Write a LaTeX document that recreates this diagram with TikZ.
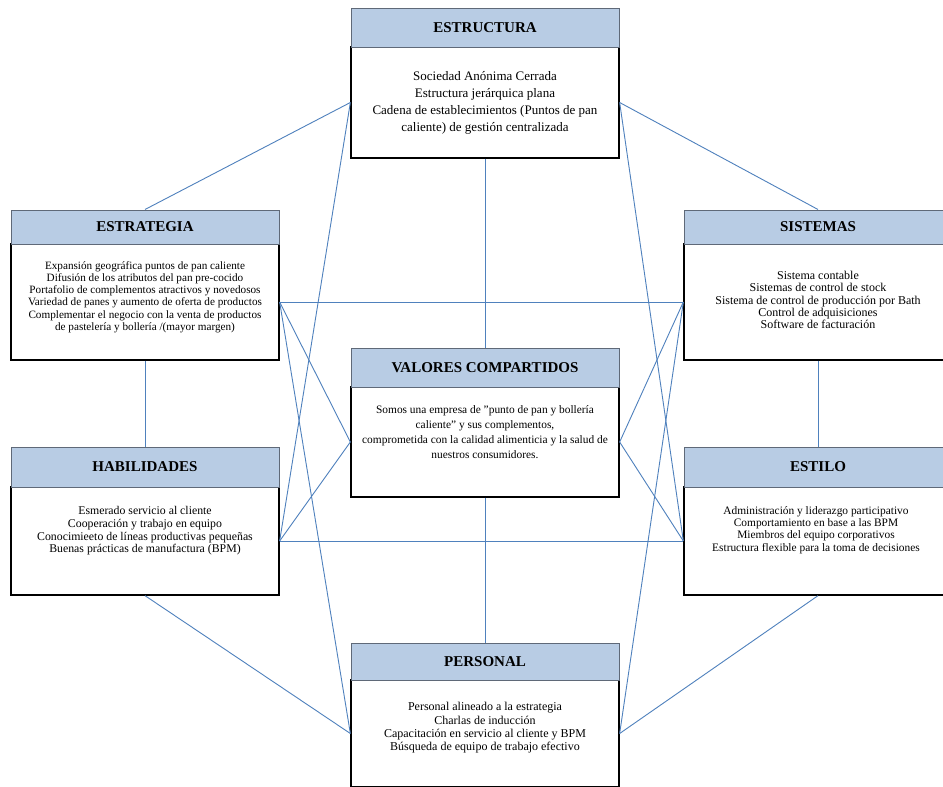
\documentclass[tikz,border=0pt]{standalone}
\usepackage{fontspec}
\setmainfont{Liberation Serif}
\definecolor{linecol}{RGB}{79,129,189}
\definecolor{hdrfill}{RGB}{184,204,228}
\definecolor{hdrdraw}{RGB}{95,105,120}
\begin{document}
\begin{tikzpicture}[x=1pt,y=-1pt,
  conn/.style={draw=linecol,line width=0.9pt},
  hdr/.style={draw=hdrdraw,fill=hdrfill,line width=1pt,minimum width=268pt,inner sep=0pt,font=\fontsize{15}{18}\selectfont\bfseries},
  bdy/.style={draw=black,fill=white,line width=1.3pt,minimum width=268pt,inner sep=0pt},
  txtA/.style={align=center,inner sep=0pt,font=\fontsize{13}{17}\selectfont},
  txtEst/.style={align=center,inner sep=0pt,font=\fontsize{11.2}{12.2}\selectfont},
  txtSis/.style={align=center,inner sep=0pt,font=\fontsize{12}{12.4}\selectfont},
  txtVal/.style={align=center,inner sep=0pt,font=\fontsize{11.4}{15}\selectfont},
  txtHab/.style={align=center,inner sep=0pt,font=\fontsize{11.8}{12.7}\selectfont},
  txtSty/.style={align=center,inner sep=0pt,font=\fontsize{11.4}{12.3}\selectfont},
  txtPer/.style={align=center,inner sep=0pt,font=\fontsize{12}{13.3}\selectfont}]
\clip (0,0) rectangle (943,787);
\fill[white] (0,0) rectangle (943,787);
% bodies
\node[bdy,minimum height=111pt] (estructuraB) at (485,102.5) {};
\node[bdy,minimum height=116pt] (estrategiaB) at (145,302) {};
\node[bdy,minimum height=116pt] (sistemasB) at (818,302) {};
\node[bdy,minimum height=110pt] (valoresB) at (485,442) {};
\node[bdy,minimum height=108pt] (habilidadesB) at (145,541) {};
\node[bdy,minimum height=108pt] (estiloB) at (818,541) {};
\node[bdy,minimum height=107pt] (personalB) at (485,733.5) {};
% headers
\node[hdr,minimum height=39pt] (estructuraH) at (485,27.5) {ESTRUCTURA};
\node[hdr,minimum height=34pt] (estrategiaH) at (145,227) {ESTRATEGIA};
\node[hdr,minimum height=34pt] (sistemasH) at (818,227) {SISTEMAS};
\node[hdr,minimum height=39pt] (valoresH) at (485,367.5) {VALORES COMPARTIDOS};
\node[hdr,minimum height=40pt] (habilidadesH) at (145,467) {HABILIDADES};
\node[hdr,minimum height=40pt] (estiloH) at (818,467) {ESTILO};
\node[hdr,minimum height=37pt] (personalH) at (485,661.5) {PERSONAL};
% connectors
\draw[conn] (estrategiaH.north) -- (estructuraB.west);
\draw[conn] (estructuraB.east) -- (sistemasH.north);
\draw[conn] (estructuraB.south) -- (valoresH.north);
\draw[conn] (estrategiaB.south) -- (habilidadesH.north);
\draw[conn] (sistemasB.south) -- (estiloH.north);
\draw[conn] (valoresB.south) -- (personalH.north);
\draw[conn] (habilidadesB.south) -- (personalB.west);
\draw[conn] (estiloB.south) -- (personalB.east);
\draw[conn] (estrategiaB.east) -- (sistemasB.west);
\draw[conn] (habilidadesB.east) -- (estiloB.west);
\draw[conn] (estrategiaB.east) -- (valoresB.west);
\draw[conn] (estrategiaB.east) -- (personalB.west);
\draw[conn] (habilidadesB.east) -- (valoresB.west);
\draw[conn] (habilidadesB.east) -- (estructuraB.west);
\draw[conn] (sistemasB.west) -- (valoresB.east);
\draw[conn] (sistemasB.west) -- (personalB.east);
\draw[conn] (estiloB.west) -- (valoresB.east);
\draw[conn] (estiloB.west) -- (estructuraB.east);
% texts
\node[txtA] (estructuraT) at (485,103) {Sociedad Anónima Cerrada\\Estructura jerárquica plana\\Cadena de establecimientos (Puntos de pan\\caliente) de gestión centralizada};
\node[txtEst] (estrategiaT) at (145,297) {Expansión geográfica puntos de  pan caliente\\Difusión  de los atributos del pan pre-cocido\\Portafolio de complementos atractivos y novedosos\\Variedad  de  panes y aumento de oferta de productos\\Complementar el negocio con la venta de productos\\de pastelería y bollería /(mayor margen)};
\node[txtSis] (sistemasT) at (818,300) {Sistema contable\\Sistemas  de  control de stock\\Sistema  de control de producción por Bath\\Control de adquisiciones\\Software de facturación};
\node[txtVal] (valoresT) at (485,432) {Somos  una empresa de  "punto de pan y bollería\\caliente" y sus  complementos,\\comprometida con la calidad  alimenticia y la salud  de\\nuestros consumidores.};
\node[txtHab] (habilidadesT) at (145,531) {Esmerado servicio al cliente\\Cooperación y trabajo en equipo\\Conocimieeto de líneas productivas pequeñas\\Buenas  prácticas de manufactura (BPM)};
\node[txtSty] (estiloT) at (816,530) {Administración y liderazgo  participativo\\Comportamiento en base a las BPM\\Miembros  del  equipo  corporativos\\Estructura flexible  para la toma de decisiones};
\node[txtPer] (personalT) at (485,728) {Personal alineado a la estrategia\\Charlas  de  inducción\\Capacitación en servicio al cliente  y BPM\\Búsqueda  de  equipo  de trabajo efectivo};
\end{tikzpicture}
\end{document}
